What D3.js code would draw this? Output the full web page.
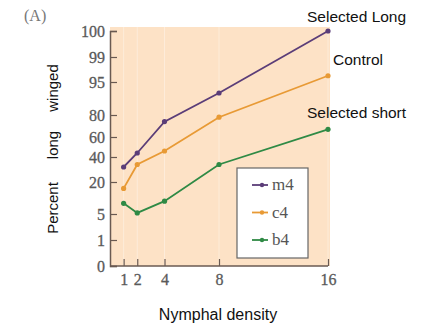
<!DOCTYPE html>
<html>
<head>
<meta charset="utf-8">
<script src="https://cdn.jsdelivr.net/npm/d3@7"></script>
<style>
  body { margin: 0; background: #fff; }
  svg text { font-family: "Liberation Serif", "DejaVu Serif", serif; }
  .sans { font-family: "Liberation Sans", Arial, sans-serif !important; }
</style>
</head>
<body>
<div class="main"></div>
<script>
var densities = [1, 2, 4, 8, 16];
var m4 = [32, 44, 74, 90, 100];
var c4 = [17, 34, 46, 78, 96];
var b4 = [10, 5.5, 11, 34, 67];
var seriesNames = ["m4", "c4", "b4"];
var seriesColors = ["#5b3d78", "#e89a35", "#2f8a45"];
var endLabels = ["Selected Long", "Control", "Selected short"];
var yTicks = [0, 1, 5, 20, 40, 60, 80, 95, 99, 100];
var xTicks = [1, 2, 4, 8, 16];

var width = 423, height = 325;
var svg = d3.select(".main").append("svg")
    .attr("width", width)
    .attr("height", height);

// x is linear, y is the hand-spaced percent scale of the figure
var xScale = d3.scaleLinear().domain([0, 16]).range([110, 328]);
var yScale = d3.scaleLinear()
    .domain(yTicks)
    .range([266, 240, 214, 182, 157, 137, 115, 82, 57, 31]);

svg.append("rect")
    .attr("x", 110).attr("y", 27)
    .attr("width", 220).attr("height", 239)
    .style("fill", "#fde2c6");

// faint grid
svg.append("g").selectAll("line")
    .data(xTicks)
    .enter().append("line")
    .attr("x1", d => xScale(d)).attr("x2", d => xScale(d))
    .attr("y1", 27).attr("y2", 266)
    .style("stroke", "#fff").style("stroke-opacity", 0.35);

var axisColor = "#6a5a52";

var yAxis = d3.axisLeft(yScale).tickValues(yTicks).tickSize(-7).tickPadding(5);
var yG = svg.append("g").attr("transform", "translate(110,0)").call(yAxis);
var xAxis = d3.axisBottom(xScale).tickValues(xTicks).tickSize(-7).tickPadding(8);
var xG = svg.append("g").attr("transform", "translate(0,266)").call(xAxis);

[yG, xG].forEach(g => {
    g.select(".domain").style("stroke", axisColor).style("stroke-width", 1.5);
    g.selectAll(".tick line").style("stroke", axisColor).style("stroke-width", 1.2);
    g.selectAll(".tick text")
        .style("font-family", "Liberation Serif, DejaVu Serif, serif")
        .style("font-size", "16px")
        .style("fill", "#5a5a5a")
        .style("stroke", "#5a5a5a").style("stroke-width", 0.3);
});
xG.select(".domain").attr("d", "M110,0H328");

var line = d3.line()
    .x((d, i) => xScale(densities[i]))
    .y(d => yScale(d));

[m4, c4, b4].forEach((vals, k) => {
    svg.append("path")
        .datum(vals)
        .attr("d", line)
        .style("fill", "none")
        .style("stroke", seriesColors[k])
        .style("stroke-width", 1.8);
    svg.append("g").selectAll("circle")
        .data(vals)
        .enter().append("circle")
        .attr("cx", (d, i) => xScale(densities[i]))
        .attr("cy", d => yScale(d))
        .attr("r", 2.6)
        .style("fill", seriesColors[k]);
});

// end labels
var labelPos = [[307, 22], [333, 65], [307, 118]];
endLabels.forEach((t, k) => {
    svg.append("text")
        .attr("class", "sans")
        .attr("x", labelPos[k][0]).attr("y", labelPos[k][1])
        .style("font-size", "15.5px")
        .style("fill", "#111")
        .text(t);
});

// legend
svg.append("rect")
    .attr("x", 237).attr("y", 168)
    .attr("width", 71).attr("height", 90)
    .style("fill", "#fff")
    .style("stroke", "#666").style("stroke-width", 1.2);
seriesNames.forEach((n, k) => {
    var ly = 185 + k * 27.5;
    svg.append("line")
        .attr("x1", 252).attr("x2", 268)
        .attr("y1", ly).attr("y2", ly)
        .style("stroke", seriesColors[k]).style("stroke-width", 1.8);
    svg.append("circle")
        .attr("cx", 262).attr("cy", ly).attr("r", 2.2)
        .style("fill", seriesColors[k]);
    svg.append("text")
        .attr("x", 272).attr("y", ly + 5)
        .style("font-size", "17px")
        .style("fill", "#555")
        .text(n);
});

svg.append("text")
    .attr("x", 24).attr("y", 21)
    .style("font-size", "16px")
    .style("fill", "#777")
    .text("(A)");

// y title pieces
[["winged", 88], ["long", 145], ["Percent", 208]].forEach(p => {
    svg.append("text")
        .attr("class", "sans")
        .attr("transform", "translate(58," + p[1] + ") rotate(-90)")
        .attr("text-anchor", "middle")
        .style("font-size", "15px")
        .style("fill", "#111")
        .text(p[0]);
});

svg.append("text")
    .attr("class", "sans")
    .attr("x", 218).attr("y", 320)
    .attr("text-anchor", "middle")
    .style("font-size", "16px")
    .style("fill", "#111")
    .text("Nymphal density");
</script>
</body>
</html>
